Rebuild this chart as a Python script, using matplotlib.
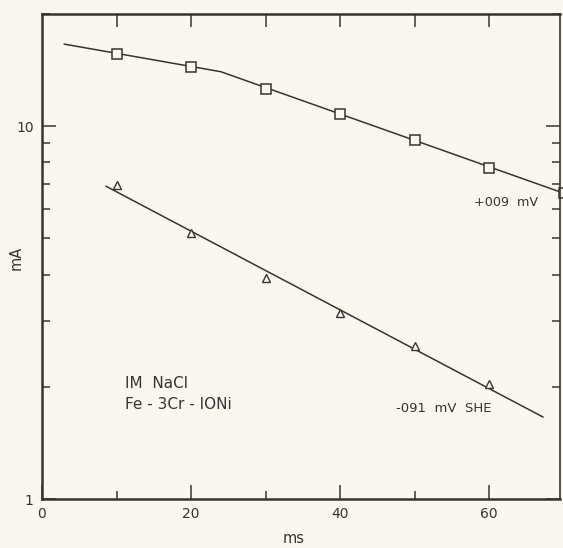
import matplotlib
matplotlib.use("Agg")
import matplotlib.pyplot as plt
from matplotlib.ticker import FixedLocator, LogLocator, NullFormatter, FixedFormatter

# upper curve (+009 mV), squares
sq_t = [10, 20, 30, 40, 50, 60, 70]
sq_i = [15.6, 14.4, 12.6, 10.8, 9.17, 7.71, 6.61]
sq_fit_t = [3, 24, 70]
sq_fit_i = [16.6, 14.0, 6.61]

# lower curve (-091 mV SHE), triangles
tr_t = [10, 20, 30, 40, 50, 60]
tr_i = [6.95, 5.17, 3.91, 3.15, 2.57, 2.03]
tr_fit_t = [8.6, 67.2]
tr_fit_i = [6.9, 1.66]

ink = "#3a3232"
bg = "#f8f8f1"

plt.rcParams["font.family"] = "DejaVu Sans"

fig = plt.figure(figsize=(5.63, 5.48), dpi=100, facecolor=bg)
ax = fig.add_axes([0.0746, 0.0894, 0.9201, 0.8851])
ax.set_facecolor(bg)

ax.plot(sq_fit_t, sq_fit_i, color=ink, lw=1.1)
ax.plot(sq_t, sq_i, ls="none", marker="s", ms=6.5, mfc=bg, mec=ink, mew=1.1, clip_on=False)
ax.plot(tr_fit_t, tr_fit_i, color=ink, lw=1.1)
ax.plot(tr_t, tr_i, ls="none", marker="^", ms=5.2, mfc=bg, mec=ink, mew=1.0)

ax.set_yscale("log")
ax.set_xlim(0, 69.5)
ax.set_ylim(1, 20)

ax.xaxis.set_major_locator(FixedLocator([0, 20, 40, 60]))
ax.xaxis.set_minor_locator(FixedLocator([10, 30, 50]))
ax.yaxis.set_major_locator(FixedLocator([1, 10]))
ax.yaxis.set_major_formatter(FixedFormatter(["1", "10"]))
ax.yaxis.set_minor_locator(LogLocator(base=10, subs=range(2, 10)))
ax.yaxis.set_minor_formatter(NullFormatter())

ax.tick_params(which="both", direction="in", color=ink, labelcolor=ink,
               labelsize=10, right=True, width=1.1)
ax.tick_params(which="major", length=10, pad=6)
ax.tick_params(which="minor", length=5.5)

top = ax.secondary_xaxis("top")
top.set_xticks([10, 20, 30, 40, 50, 60])
top.tick_params(direction="in", length=9, width=1.1, color=ink, labeltop=False)
top.spines["top"].set_visible(False)

for s in ax.spines.values():
    s.set_color(ink)
    s.set_linewidth(1.8)
ax.spines["right"].set_linewidth(1.2)

ax.set_xlabel("ms", color=ink, fontsize=10.5)
ax.xaxis.set_label_coords(0.485, -0.066)
ax.set_ylabel("mA", color=ink, fontsize=10.5)
ax.yaxis.set_label_coords(-0.036, 0.497)

ax.text(58, 6.25, "+009  mV", color=ink, fontsize=9.2, va="center")
ax.text(47.5, 1.75, "-091  mV  SHE", color=ink, fontsize=9.5, va="center")
ax.text(11.2, 1.91, "IM  NaCl\nFe - 3Cr - IONi", color=ink, fontsize=11,
        va="center", linespacing=1.5)

fig.savefig("out.png", dpi=100, facecolor=bg)
